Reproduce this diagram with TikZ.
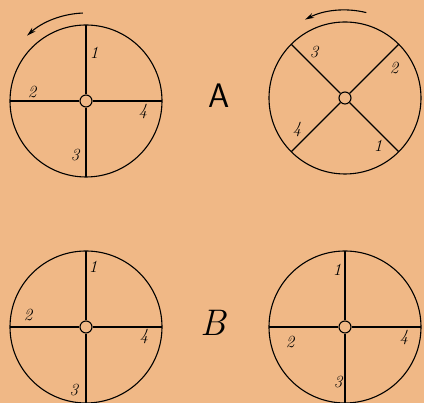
\documentclass[tikz,border=0pt]{standalone}
\usetikzlibrary{arrows.meta}
\definecolor{paper}{RGB}{240,184,134}
\tikzset{
  wheel/.style={line width=1.1pt},
  hub/.style={circle, draw, line width=1.1pt, fill=paper, minimum size=12pt, inner sep=0pt},
  num/.style={font=\fontsize{17}{17}\selectfont\itshape, inner sep=0pt},
  turn/.style={line width=1.1pt, -{Stealth[length=9pt,width=5pt]}},
}
\begin{document}
\begin{tikzpicture}[x=1pt,y=1pt]
  \fill[paper] (0,0) rectangle (424,403);
  \useasboundingbox (0,0) rectangle (424,403);
  % row A
  \begin{scope}[shift={(86,302)}]
    \draw[wheel] (0,0) circle[radius=76pt];
    \node[hub] (hubA1) at (0,0) {};
    \foreach \a/\n in {90/a1n,180/a1w,270/a1s,0/a1e} {
      \coordinate (\n) at (\a:76pt);
      \draw[wheel] (hubA1) -- (\n);
    }
    \node[num] (a1one) at (8,48) {1};
    \node[num] (a1two) at (-54,9) {2};
    \node[num] (a1three) at (-11,-54) {3};
    \node[num] (a1four) at (57,-11) {4};
    \draw[turn] (92:88pt) arc[start angle=92, end angle=132, radius=88pt];
  \end{scope}
  \node[font=\sffamily\fontsize{34}{34}\selectfont] (labA) at (219,307) {A};
  \begin{scope}[shift={(345,305)}]
    \draw[wheel] (0,0) circle[radius=76pt];
    \node[hub] (hubA2) at (0,0) {};
    \foreach \a/\n in {45/a2ne,135/a2nw,225/a2sw,315/a2se} {
      \coordinate (\n) at (\a:76pt);
      \draw[wheel] (hubA2) -- (\n);
    }
    \node[num] (a2one) at (33,-48) {1};
    \node[num] (a2two) at (49,30) {2};
    \node[num] (a2three) at (-31,46) {3};
    \node[num] (a2four) at (-48,-32) {4};
    \draw[turn] (76:88pt) arc[start angle=76, end angle=117, radius=88pt];
  \end{scope}
  % row B
  \begin{scope}[shift={(86,76)}]
    \draw[wheel] (0,0) circle[radius=76pt];
    \node[hub] (hubB1) at (0,0) {};
    \foreach \a/\n in {90/b1n,180/b1w,270/b1s,0/b1e} {
      \coordinate (\n) at (\a:76pt);
      \draw[wheel] (hubB1) -- (\n);
    }
    \node[num] (b1one) at (7,60) {1};
    \node[num] (b1two) at (-58,12) {2};
    \node[num] (b1three) at (-12,-63) {3};
    \node[num] (b1four) at (58,-10) {4};
  \end{scope}
  \node[font=\itshape\fontsize{37}{37}\selectfont] (labB) at (213,80) {B};
  \begin{scope}[shift={(345,76)}]
    \draw[wheel] (0,0) circle[radius=76pt];
    \node[hub] (hubB2) at (0,0) {};
    \foreach \a/\n in {90/b2n,180/b2w,270/b2s,0/b2e} {
      \coordinate (\n) at (\a:76pt);
      \draw[wheel] (hubB2) -- (\n);
    }
    \node[num] (b2one) at (-8,57) {1};
    \node[num] (b2two) at (-55,-15) {2};
    \node[num] (b2three) at (-7,-55) {3};
    \node[num] (b2four) at (59,-11) {4};
  \end{scope}
\end{tikzpicture}
\end{document}
